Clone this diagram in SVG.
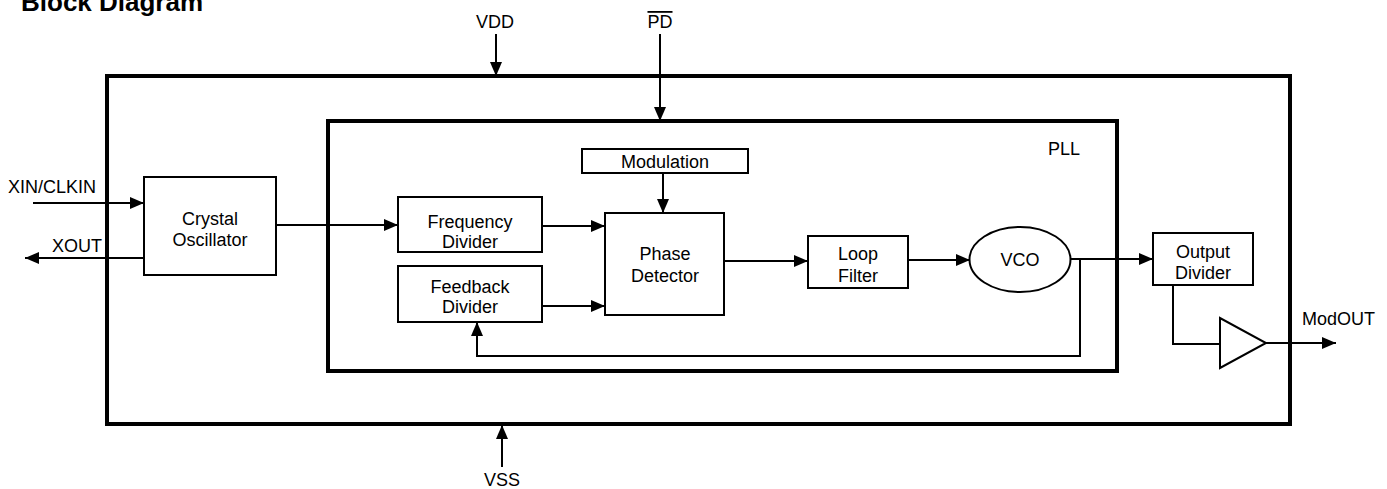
<svg xmlns="http://www.w3.org/2000/svg" width="1387" height="489" viewBox="0 0 1387 489">
<style>
text{font-family:"Liberation Sans",Arial,sans-serif;font-size:18px;fill:#000}
.c{text-anchor:middle}
.box{fill:#fff;stroke:#000;stroke-width:2}
.big{fill:none;stroke:#000;stroke-width:4}
.w{fill:none;stroke:#000;stroke-width:2}
</style>
<defs>
<marker id="ah" markerUnits="userSpaceOnUse" markerWidth="15" markerHeight="13" refX="14" refY="6" orient="auto">
<path d="M0,0 L14,6 L0,12 z" fill="#000"/>
</marker>
</defs>
<rect width="1387" height="489" fill="#fff"/>
<text x="21" y="11" style="font-weight:bold;font-size:26px">Block Diagram</text>
<g id="chip"><rect class="big" x="107" y="76" width="1183" height="348"/></g>
<g id="pll"><rect class="big" x="328" y="121" width="789" height="250"/><text x="1048" y="155">PLL</text></g>
<g id="labels">
<text class="c" x="495" y="28">VDD</text>
<text class="c" x="660" y="28" style="text-decoration:overline">PD</text>
<text class="c" x="502" y="486">VSS</text>
<text x="8" y="193">XIN/CLKIN</text>
<text x="52" y="252">XOUT</text>
<text x="1302" y="325">ModOUT</text>
</g>
<g id="xtal"><rect class="box" x="144" y="177" width="132" height="98"/><text class="c" x="210" y="225">Crystal</text><text class="c" x="210" y="246">Oscillator</text></g>
<g id="freqdiv"><rect class="box" x="398" y="197" width="144" height="55"/><text class="c" x="470" y="228">Frequency</text><text class="c" x="470" y="248">Divider</text></g>
<g id="fbdiv"><rect class="box" x="398" y="266" width="144" height="56"/><text class="c" x="470" y="293">Feedback</text><text class="c" x="470" y="313">Divider</text></g>
<g id="mod"><rect class="box" x="582" y="149" width="166" height="24"/><text class="c" x="665" y="168">Modulation</text></g>
<g id="pd"><rect class="box" x="605" y="213" width="119" height="102"/><text class="c" x="665" y="260">Phase</text><text class="c" x="665" y="282">Detector</text></g>
<g id="lf"><rect class="box" x="808" y="236" width="100" height="52"/><text class="c" x="858" y="260">Loop</text><text class="c" x="858" y="282">Filter</text></g>
<g id="vco"><ellipse class="box" cx="1020" cy="259.5" rx="50.5" ry="32.5"/><text class="c" x="1020" y="266">VCO</text></g>
<g id="outdiv"><rect class="box" x="1153" y="233" width="100" height="52"/><text class="c" x="1203" y="258">Output</text><text class="c" x="1203" y="279">Divider</text></g>
<g id="buf"><path class="box" d="M1220,318 L1220,368 L1266,343 z"/></g>
<g id="connectors">
<line class="w" x1="496" y1="34" x2="496" y2="76" marker-end="url(#ah)"/>
<line class="w" x1="660" y1="34" x2="660" y2="121" marker-end="url(#ah)"/>
<line class="w" x1="502" y1="467" x2="502" y2="425" marker-end="url(#ah)"/>
<line class="w" x1="33" y1="203" x2="144" y2="203" marker-end="url(#ah)"/>
<line class="w" x1="144" y1="258" x2="25" y2="258" marker-end="url(#ah)"/>
<line class="w" x1="276" y1="225" x2="398" y2="225" marker-end="url(#ah)"/>
<line class="w" x1="542" y1="226" x2="605" y2="226" marker-end="url(#ah)"/>
<line class="w" x1="542" y1="306" x2="605" y2="306" marker-end="url(#ah)"/>
<line class="w" x1="663" y1="173" x2="663" y2="213" marker-end="url(#ah)"/>
<line class="w" x1="724" y1="261" x2="808" y2="261" marker-end="url(#ah)"/>
<line class="w" x1="908" y1="260" x2="970" y2="260" marker-end="url(#ah)"/>
<line class="w" x1="1071" y1="259" x2="1153" y2="259" marker-end="url(#ah)"/>
<polyline class="w" points="1080,259 1080,356 477,356 477,322" marker-end="url(#ah)"/>
<polyline class="w" points="1173,285 1173,344 1220,344"/>
<line class="w" x1="1266" y1="343" x2="1336" y2="343" marker-end="url(#ah)"/>
</g>
</svg>
